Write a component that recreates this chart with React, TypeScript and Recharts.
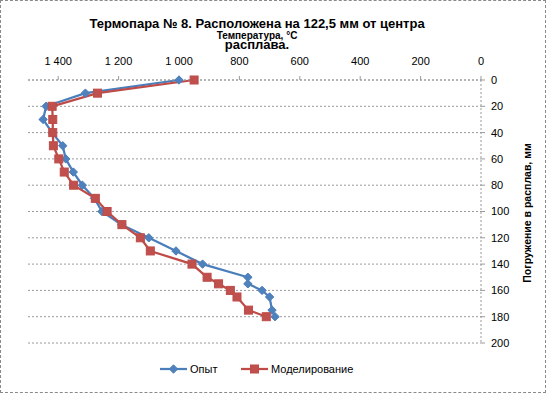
import { LineChart, Line, XAxis, YAxis, CartesianGrid } from 'recharts';

const depths = [0, 10, 20, 30, 40, 50, 60, 70, 80, 90, 100, 110, 120, 130, 140, 150, 155, 160, 165, 175, 180];
const opyt = [1000, 1310, 1440, 1450, 1420, 1385, 1375, 1350, 1320, 1280, 1255, 1190, 1100, 1010, 922, 772, 772, 725, 700, 692, 682];
const model = [950, 1270, 1420, 1418, 1418, 1416, 1398, 1380, 1349, 1277, 1238, 1189, 1128, 1095, 957, 907, 869, 830, 808, 770, 711];

const tempTicks = [0, 200, 400, 600, 800, 1000, 1200, 1400];
const depthTicks = [0, 20, 40, 60, 80, 100, 120, 140, 160, 180, 200];

const data = depths.map((d, i) => ({ depth: d, opyt: opyt[i], model: model[i] }));

const BLUE = '#4a7ebb';
const RED = '#be4b48';
const FONT = '"Liberation Sans", Arial, sans-serif';

const fmtTemp = (v: number) =>
  v >= 1000 ? `${Math.floor(v / 1000)}\u00a0${String(v % 1000).padStart(3, '0')}` : String(v);

function Diamond({ cx, cy }: { cx: number; cy: number }) {
  const r = 4.2;
  return (
    <path
      d={`M${cx},${cy - r}L${cx + r},${cy}L${cx},${cy + r}L${cx - r},${cy}Z`}
      fill="#4f81bd"
      stroke={BLUE}
      strokeWidth={1}
    />
  );
}

function Square({ cx, cy }: { cx: number; cy: number }) {
  const r = 4;
  return <rect x={cx - r} y={cy - r} width={2 * r} height={2 * r} fill="#c0504d" stroke={RED} strokeWidth={1} />;
}

export default function App() {
  return (
    <div
      style={{
        position: 'absolute',
        left: 0,
        top: 0,
        width: 547,
        height: 394,
        background: '#fff',
        fontFamily: FONT,
      }}
    >
      <div
        style={{
          position: 'absolute',
          left: 0,
          top: 0,
          width: 546,
          height: 393,
          border: '1px dashed #8a8a8a',
          boxSizing: 'border-box',
        }}
      />
      <LineChart
        layout="vertical"
        width={547}
        height={394}
        data={data}
        margin={{ top: 50, right: 26, left: 28, bottom: 51 }}
      >
        <CartesianGrid vertical={false} stroke="#9a9a9a" strokeDasharray="2 2" />
        <XAxis
          type="number"
          orientation="top"
          reversed
          domain={[0, 1500]}
          ticks={tempTicks}
          tickFormatter={fmtTemp}
          height={30}
          tickSize={4}
          tickMargin={11}
          tick={{ fontSize: 11, fill: '#000', fontFamily: FONT }}
          axisLine={{ stroke: '#9a9a9a', strokeDasharray: '2 2' }}
          tickLine={{ stroke: '#9a9a9a' }}
        />
        <YAxis
          type="number"
          dataKey="depth"
          orientation="right"
          domain={[0, 200]}
          ticks={depthTicks}
          width={40}
          tickSize={4}
          tickMargin={6}
          tick={{ fontSize: 11, fill: '#000', fontFamily: FONT }}
          axisLine={{ stroke: '#9a9a9a', strokeDasharray: '2 2' }}
          tickLine={{ stroke: '#9a9a9a' }}
        />
        <Line
          dataKey="opyt"
          stroke={BLUE}
          strokeWidth={2.25}
          isAnimationActive={false}
          dot={(p: any) => <Diamond key={`o${p.index}`} cx={p.cx} cy={p.cy} />}
        />
        <Line
          dataKey="model"
          stroke={RED}
          strokeWidth={2.25}
          isAnimationActive={false}
          dot={(p: any) => <Square key={`m${p.index}`} cx={p.cx} cy={p.cy} />}
        />
      </LineChart>
      <svg width={547} height={394} style={{ position: 'absolute', left: 0, top: 0, pointerEvents: 'none' }}>
        <text x={257} y={28} textAnchor="middle" fontSize={13} fontWeight="bold" fontFamily={FONT}>
          Термопара № 8. Расположена на 122,5 мм от центра
        </text>
        <text x={257} y={38.5} textAnchor="middle" fontSize={10} fontWeight="bold" fontFamily={FONT}>
          Температура, °С
        </text>
        <text x={257} y={49} textAnchor="middle" fontSize={13} fontWeight="bold" fontFamily={FONT}>
          расплава.
        </text>
        <text
          x={0}
          y={0}
          transform="translate(531,213) rotate(-90)"
          textAnchor="middle"
          fontSize={10.5}
          fontWeight="bold"
          fontFamily={FONT}
        >
          Погружение в расплав, мм
        </text>
        <line x1={160} y1={369} x2={187} y2={369} stroke={BLUE} strokeWidth={2.25} />
        <Diamond cx={173.5} cy={369} />
        <text x={190} y={373} fontSize={11} fontFamily={FONT}>
          Опыт
        </text>
        <line x1={241} y1={369} x2={268} y2={369} stroke={RED} strokeWidth={2.25} />
        <Square cx={254.5} cy={369} />
        <text x={271} y={373} fontSize={11} fontFamily={FONT}>
          Моделирование
        </text>
      </svg>
    </div>
  );
}
